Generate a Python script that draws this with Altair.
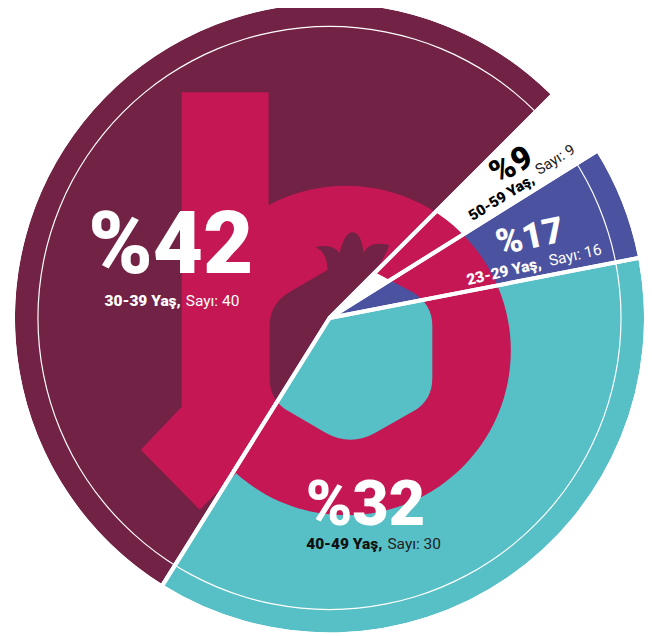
import math
import altair as alt
import pandas as pd

# Slices, clockwise from the 45 degree line; spans are the angles
groups = ["50-59 Yaş,", "23-29 Yaş,", "40-49 Yaş,", "30-39 Yaş,"]
spans = [13, 21, 133, 193]
colors = ["#FFFFFF", "#4B52A0", "#57BFC6", "#722245"]
percents = ["%9", "%17", "%32", "%42"]
counts = ["Sayı: 9", "Sayı: 16", "Sayı: 30", "Sayı: 40"]

CX, CY = 322, 310  # pie centre inside the plot area
R = 315
START = math.radians(45)
FONT = "Roboto"
CRIMSON = "#C41753"

df = pd.DataFrame({"group": groups, "span": spans, "color": colors, "rank": range(len(groups))})

theta = alt.Theta("span:Q", stack=True,
                  scale=alt.Scale(domain=[0, sum(spans)], range=[START, START + 2 * math.pi]))
order = alt.Order("rank:Q")
cx = alt.value(CX)
cy = alt.value(CY)

slices = alt.Chart(df).mark_arc(outerRadius=R, innerRadius=0).encode(
    theta=theta, order=order, x=cx, y=cy,
    color=alt.Color("color:N", scale=None, legend=None),
)

separators = alt.Chart(df).mark_arc(
    outerRadius=R + 2, innerRadius=0, fillOpacity=0, stroke="white", strokeWidth=4
).encode(theta=theta, order=order, x=cx, y=cy)

one = pd.DataFrame({"k": [0]})
ring = alt.Chart(one).mark_arc(
    innerRadius=291.4, outerRadius=292.6, theta=0, theta2=2 * math.pi, color="white"
).encode(x=cx, y=cy)


def p(x, y):
    # page pixels to coordinates around the pie centre
    return f"{x - 330},{y - 318}"


logo_path = (
    f"M{p(182, 92)} L{p(269, 92)} L{p(269, 205)} "
    f"A165,165 0 1 1 {p(236.5, 473.5)} "
    f"L{p(200, 510)} L{p(141, 450)} L{p(182, 407)} Z "
    f"M{p(328, 270)} L{p(290, 292)} Q{p(270, 304)} {p(270, 326)} "
    f"L{p(270, 378)} Q{p(270, 401)} {p(290, 412)} "
    f"L{p(326, 433)} Q{p(351, 447)} {p(376, 433)} "
    f"L{p(413, 412)} Q{p(433, 401)} {p(433, 378)} "
    f"L{p(433, 326)} Q{p(433, 304)} {p(413, 292)} "
    f"L{p(375, 272)} Q{p(385, 258)} {p(390, 245)} "
    f"Q{p(370, 240)} {p(364, 253)} Q{p(362, 232)} {p(353, 232)} "
    f"Q{p(345, 232)} {p(340, 253)} Q{p(333, 243)} {p(316, 247)} "
    f"Q{p(328, 253)} {p(328, 270)} Z"
)

logo = alt.Chart(one).mark_point(
    shape=logo_path, size=4, filled=True, fill=CRIMSON, opacity=1, strokeWidth=0
).encode(x=cx, y=cy)


def label(text, x, y, size, color, weight="normal", align="center", angle=0):
    return alt.Chart(pd.DataFrame({"t": [text]})).mark_text(
        font=FONT, fontSize=size, fontWeight=weight, color=color,
        align=align, baseline="alphabetic", angle=angle,
    ).encode(x=alt.value(x - 8), y=alt.value(y - 8), text="t:N")


labels = [
    label(percents[3], 171, 273, 87, "white", 900),
    label(groups[3], 181, 306, 15.5, "white", 900, "right"),
    label(counts[3], 186, 306, 15.5, "white", "normal", "left"),
    label(percents[2], 366, 525, 63, "white", 900),
    label(groups[2], 383, 549, 15.5, "#111111", 900, "right"),
    label(counts[2], 388, 549, 15.5, "#222222", "normal", "left"),
    label(percents[1], 533, 248, 36, "white", 900, angle=348),
    label(groups[1], 543, 268, 15.5, "white", 900, "right", 347),
    label(counts[1], 551, 266, 15.5, "white", "normal", "left", 347),
    label(percents[0], 517, 174, 33, "#000000", 900, angle=331),
    label(groups[0], 536, 182, 15, "#000000", 900, "right", 328),
    label(counts[0], 540, 175, 15, "#222222", "normal", "left", 328),
]

chart = alt.layer(slices, ring, logo, separators, *labels).properties(
    width=637, height=625, padding=0, background="white",
    autosize=alt.AutoSizeParams(type="none"),
).configure_view(stroke=None)

chart.save("out.html", embed_options={"renderer": "svg", "actions": False})
